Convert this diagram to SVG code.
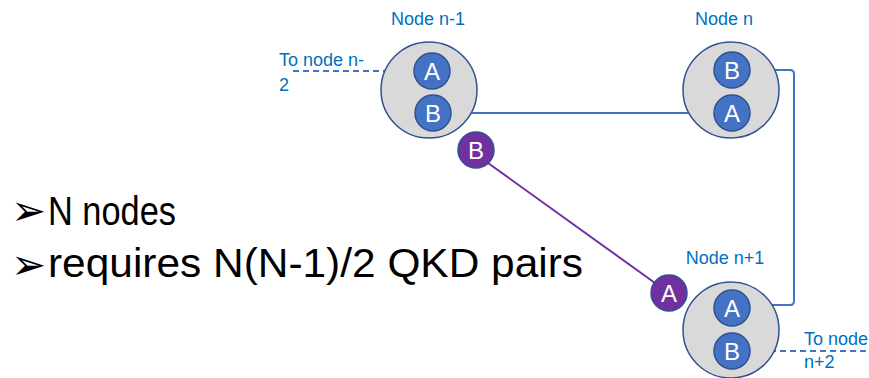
<svg xmlns="http://www.w3.org/2000/svg" width="869" height="378" viewBox="0 0 869 378">
<style>
.big{fill:#D9D9D9;stroke:#2F528F;stroke-width:1.5}
.sm{fill:#4472C4;stroke:#2F528F;stroke-width:1.5}
.pu{fill:#7030A0;stroke:#2F528F;stroke-width:1.5}
.lt{fill:#fff;font-family:"Liberation Sans",Arial,sans-serif;font-size:24px;text-anchor:middle}
.lbl{fill:#0070C0;font-family:"Liberation Sans",Arial,sans-serif;font-size:18px}
.ln{stroke:#4472C4;stroke-width:2;fill:none}
.dash{stroke:#4472C4;stroke-width:2;fill:none;stroke-dasharray:6 4}
.main{fill:#000;font-family:"Liberation Sans",Arial,sans-serif;font-size:40px}
.arr{fill:#000;font-family:"DejaVu Sans",sans-serif;font-size:42px}
</style>
<rect width="869" height="378" fill="#fff"/>
<g id="connectors">
<path class="dash" d="M293 71 H414"/>
<path class="dash" d="M750 351 H869"/>
<path class="ln" d="M451 113 H714"/>
<path class="ln" d="M750 70 H790 Q794 70 794 74 V301 Q794 305 790 305 H750"/>
<path d="M488 163 L655 283" stroke="#7030A0" stroke-width="2" fill="none"/>
</g>
<g id="node-n-1">
<circle class="big" cx="429" cy="90" r="48"/>
<circle class="sm" cx="432" cy="71" r="18"/><text class="lt" x="432" y="80">A</text>
<circle class="sm" cx="433" cy="113" r="18"/><text class="lt" x="433" y="122">B</text>
<text class="lbl" x="428" y="25" text-anchor="middle">Node n-1</text>
</g>
<g id="node-n">
<circle class="big" cx="731" cy="90" r="48"/>
<circle class="sm" cx="732" cy="70" r="18"/><text class="lt" x="732" y="79">B</text>
<circle class="sm" cx="732" cy="113" r="18"/><text class="lt" x="732" y="122">A</text>
<text class="lbl" x="724" y="25" text-anchor="middle">Node n</text>
</g>
<g id="node-n1">
<circle class="big" cx="731" cy="330" r="48"/>
<circle class="sm" cx="732" cy="308" r="18"/><text class="lt" x="732" y="317">A</text>
<circle class="sm" cx="732" cy="351" r="18"/><text class="lt" x="732" y="360">B</text>
<text class="lbl" x="725" y="264" text-anchor="middle">Node n+1</text>
</g>
<g id="purple-b">
<circle class="pu" cx="476" cy="150" r="18"/><text class="lt" x="476" y="159">B</text>
</g>
<g id="purple-a">
<circle class="pu" cx="669" cy="293" r="18"/><text class="lt" x="669" y="302">A</text>
</g>
<g id="to-n-2">
<text class="lbl" x="279" y="66">To node n-</text>
<text class="lbl" x="279" y="91">2</text>
</g>
<g id="to-n2">
<text class="lbl" x="804" y="345">To node</text>
<text class="lbl" x="804" y="368">n+2</text>
</g>
<g id="bullets">
<text class="arr" x="11" y="225">➢</text>
<text class="main" x="48" y="225" textLength="128" lengthAdjust="spacingAndGlyphs">N nodes</text>
<text class="arr" x="11" y="279">➢</text>
<text class="main" x="48" y="277" textLength="535" lengthAdjust="spacingAndGlyphs">requires N(N-1)/2 QKD pairs</text>
</g>
</svg>
